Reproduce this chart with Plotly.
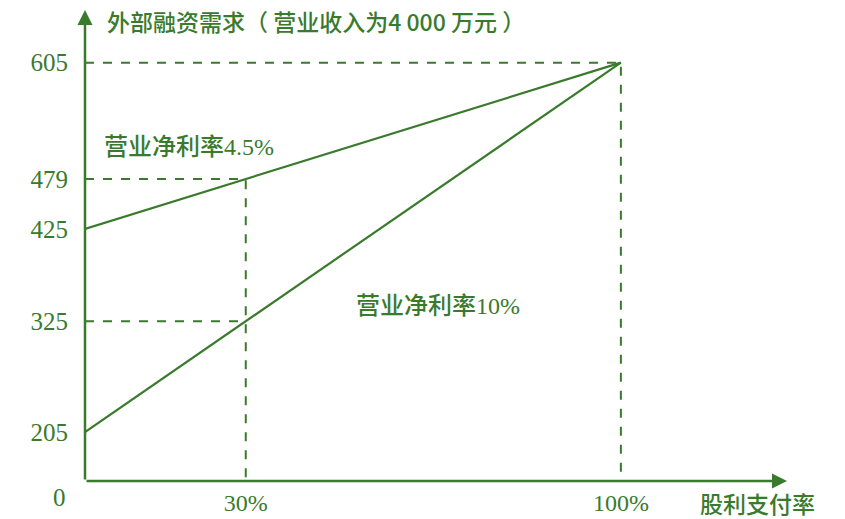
import plotly.graph_objects as go

# Data
payout = [0, 30, 100]                 # 股利支付率 (%)
margin_45 = [425, 479, 605]           # 营业净利率4.5%
margin_10 = [205, 325, 605]           # 营业净利率10%
y_tick_vals = [605, 479, 425, 325, 205]
x_tick_vals = [30, 100]
x_tick_text = ["30%", "100%"]
y_axis_base = 152                     # broken axis origin shown as "0"
y_top = 662
x_end = 131

G = "#3a7a2c"
serif = "Liberation Serif, DejaVu Serif, serif"
cjk = "Noto Sans CJK SC, sans-serif"

fig = go.Figure()

# dashed guide lines
dash = dict(color=G, width=2, dash="dash")
fig.add_trace(go.Scatter(x=[0, payout[2], payout[2]], y=[margin_45[2], margin_45[2], y_axis_base],
                         mode="lines", line=dash, hoverinfo="skip"))
fig.add_trace(go.Scatter(x=[0, payout[1], payout[1]], y=[margin_45[1], margin_45[1], y_axis_base],
                         mode="lines", line=dash, hoverinfo="skip"))
fig.add_trace(go.Scatter(x=[0, payout[1]], y=[margin_10[1], margin_10[1]],
                         mode="lines", line=dash, hoverinfo="skip"))

# main lines
fig.add_trace(go.Scatter(x=payout, y=margin_45, mode="lines", line=dict(color=G, width=2.2)))
fig.add_trace(go.Scatter(x=payout, y=margin_10, mode="lines", line=dict(color=G, width=2.2)))

num = "<span style='font-family:Liberation Serif'>%s</span>"

annotations = [
    # axes with arrows
    dict(x=0, y=y_top, ax=0, ay=y_axis_base, xref="x", yref="y", axref="x", ayref="y",
         showarrow=True, arrowhead=2, arrowsize=1.2, arrowwidth=2.5, arrowcolor=G, text=""),
    dict(x=x_end, y=y_axis_base, ax=0, ay=y_axis_base, xref="x", yref="y", axref="x", ayref="y",
         showarrow=True, arrowhead=2, arrowsize=1.2, arrowwidth=2.5, arrowcolor=G, text=""),
    # origin label
    dict(x=0, y=y_axis_base, xref="x", yref="y", text="0", showarrow=False,
         xanchor="right", yanchor="top", xshift=-17, yshift=-1,
         font=dict(family=serif, size=25, color=G)),
    # axis titles
    dict(x=105, y=21, xref="paper", yref="paper", xanchor="left",
         text="外部融资需求（ 营业收入为4 000 万元 ）",
         showarrow=False, font=dict(family=cjk, size=23, color=G, weight=500)),
    dict(x=757, y=503, xref="paper", yref="paper", text="股利支付率",
         showarrow=False, font=dict(family=cjk, size=23, color=G, weight=500)),
    # series labels
    dict(x=102, y=145, xref="paper", yref="paper", xanchor="left",
         text="营业净利率" + num % "4.5%",
         showarrow=False, font=dict(family=cjk, size=24, color=G, weight=500)),
    dict(x=354, y=303, xref="paper", yref="paper", xanchor="left",
         text="营业净利率" + num % "10%",
         showarrow=False, font=dict(family=cjk, size=24, color=G, weight=500)),
]

# convert pixel-positioned annotations to paper coords
W, H = 845, 519
L, T = 85, 10
R = W - 787
B = H - 481
pw, ph = W - L - R, H - T - B
for a in annotations:
    if a.get("xref") == "paper":
        a["x"] = (a["x"] - L) / pw
        a["y"] = 1 - (a["y"] - T) / ph
        a.setdefault("xanchor", "center")
        a["yanchor"] = "middle"

fig.update_layout(
    width=W, height=H,
    margin=dict(l=L, r=R, t=T, b=B, autoexpand=False),
    paper_bgcolor="white", plot_bgcolor="white",
    showlegend=False,
    annotations=annotations,
    xaxis=dict(range=[0, x_end], tickvals=x_tick_vals, ticktext=x_tick_text,
               showgrid=False, zeroline=False, showline=False, ticks="",
               ticklabelstandoff=5, automargin=False,
               tickfont=dict(family=serif, size=24, color=G)),
    yaxis=dict(range=[y_axis_base, y_top], tickvals=y_tick_vals,
               showgrid=False, zeroline=False, showline=False, ticks="",
               ticklabelstandoff=16, automargin=False,
               tickfont=dict(family=serif, size=25, color=G)),
)

fig.write_html("out.html", config={"displayModeBar": False},
               post_script="document.body.style.margin='0px';document.body.style.overflow='hidden';")
